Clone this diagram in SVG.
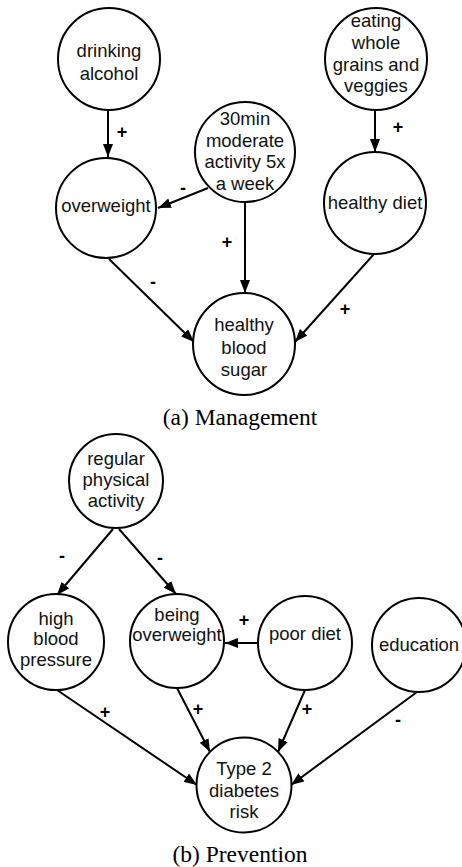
<svg xmlns="http://www.w3.org/2000/svg" width="462" height="867" viewBox="0 0 462 867">
<style>
.n circle{fill:#fff;stroke:#000;stroke-width:2}
.n text{font-family:"Liberation Sans",Arial,sans-serif;font-size:18.5px;fill:#111;text-anchor:middle}
.e line{stroke:#000;stroke-width:2;marker-end:url(#ah)}
.l{font-family:"Liberation Sans",Arial,sans-serif;font-size:18px;font-weight:bold;text-anchor:middle;fill:#000}
.cap{font-family:"Liberation Serif","Times New Roman",serif;font-size:23.5px;text-anchor:middle;fill:#000}
</style>
<defs>
<marker id="ah" markerUnits="userSpaceOnUse" markerWidth="14" markerHeight="10" refX="13" refY="5" orient="auto">
<path d="M0,0 L13,5 L0,10 z" fill="#000"/>
</marker>
</defs>
<rect width="462" height="867" fill="#fff"/>
<g id="connectors" class="e">
<line x1="108" y1="110" x2="108" y2="157"/>
<line x1="375" y1="110" x2="375" y2="152"/>
<line x1="208" y1="188" x2="158" y2="208"/>
<line x1="245" y1="203" x2="245" y2="293"/>
<line x1="109" y1="259" x2="194" y2="342"/>
<line x1="374" y1="254" x2="295" y2="342"/>
<line x1="113" y1="529" x2="57" y2="595"/>
<line x1="119" y1="529" x2="176" y2="594"/>
<line x1="258" y1="643" x2="225" y2="643"/>
<line x1="57" y1="690" x2="197" y2="785"/>
<line x1="177" y1="688" x2="210" y2="752"/>
<line x1="305" y1="690" x2="278" y2="752"/>
<line x1="417" y1="692" x2="291" y2="785"/>
</g>
<g id="labels">
<text class="l" x="122" y="138">+</text>
<text class="l" x="183" y="194">-</text>
<text class="l" x="227" y="248">+</text>
<text class="l" x="153" y="288">-</text>
<text class="l" x="398" y="133">+</text>
<text class="l" x="345" y="315">+</text>
<text class="l" x="62" y="562">-</text>
<text class="l" x="160" y="564">-</text>
<text class="l" x="244" y="626">+</text>
<text class="l" x="105" y="718">+</text>
<text class="l" x="198" y="715">+</text>
<text class="l" x="307" y="715">+</text>
<text class="l" x="398" y="726">-</text>
</g>
<g id="drinking" class="n"><circle cx="109" cy="59" r="51"/><text x="109" y="57">drinking</text><text x="109" y="80">alcohol</text></g>
<g id="overweight" class="n"><circle cx="106" cy="208" r="50"/><text x="106" y="212">overweight</text></g>
<g id="activity30" class="n"><circle cx="245" cy="152" r="50"/><text x="245" y="125">30min</text><text x="245" y="147">moderate</text><text x="245" y="168">activity 5x</text><text x="245" y="190">a week</text></g>
<g id="eating" class="n"><circle cx="376" cy="59" r="51"/><text x="376" y="27">eating</text><text x="376" y="49">whole</text><text x="376" y="71">grains and</text><text x="376" y="92">veggies</text></g>
<g id="healthydiet" class="n"><circle cx="375" cy="203" r="51"/><text x="375" y="209">healthy diet</text></g>
<g id="bloodsugar" class="n"><circle cx="244" cy="344" r="51"/><text x="244" y="331">healthy</text><text x="244" y="354">blood</text><text x="244" y="376">sugar</text></g>
<text class="cap" x="240" y="425">(a) Management</text>
<g id="regular" class="n"><circle cx="116" cy="481" r="47"/><text x="116" y="465">regular</text><text x="116" y="486">physical</text><text x="116" y="507">activity</text></g>
<g id="hbp" class="n"><circle cx="56" cy="642" r="48"/><text x="56" y="625">high</text><text x="56" y="645">blood</text><text x="56" y="666">pressure</text></g>
<g id="being" class="n"><circle cx="177" cy="641" r="47"/><text x="177" y="621">being</text><text x="177" y="641">overweight</text></g>
<g id="poordiet" class="n"><circle cx="305" cy="643" r="47"/><text x="305" y="640">poor diet</text></g>
<g id="education" class="n"><circle cx="419" cy="645" r="47"/><text x="419" y="651">education</text></g>
<g id="type2" class="n"><circle cx="244" cy="785" r="47.5"/><text x="244" y="775">Type 2</text><text x="244" y="797">diabetes</text><text x="244" y="818">risk</text></g>
<text class="cap" x="240" y="862">(b) Prevention</text>
</svg>
